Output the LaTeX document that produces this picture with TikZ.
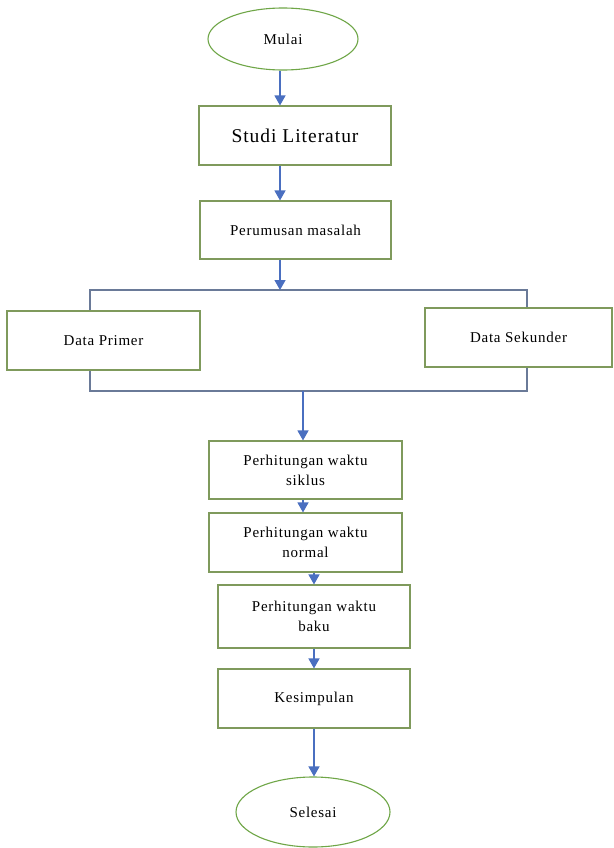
\documentclass[tikz,border=0pt]{standalone}
\usepackage{fontspec}
\setmainfont{Liberation Serif}[LetterSpace=5]
\usetikzlibrary{shapes.geometric,arrows.meta}
\definecolor{boxgreen}{HTML}{7F9A5C}
\definecolor{ellgreen}{HTML}{6FA647}
\definecolor{arrblue}{HTML}{4A6FC0}
\definecolor{lineblue}{HTML}{6A7A98}
\begin{document}
\begin{tikzpicture}[x=1pt,y=-1pt,
  proc/.style={draw=boxgreen, line width=1.1pt, fill=white, rectangle, inner sep=2pt,
    align=center, font=\fontsize{15}{20}\selectfont},
  term/.style={draw=ellgreen, line width=1.1pt, fill=white, ellipse, inner sep=0pt,
    font=\fontsize{15}{19}\selectfont},
  arr/.style={draw=arrblue, line width=1.3pt, -{Triangle[width=11pt,length=10pt]}},
  conn/.style={draw=lineblue, line width=1.3pt}]
\useasboundingbox (0,0) rectangle (613,848);
\fill[white] (0,0) rectangle (613,848);

\node[term, minimum width=150pt, minimum height=62pt] (mulai) at (283,39) {Mulai};
\node[proc, minimum width=192pt, minimum height=59pt, font=\fontsize{19.5}{22}\selectfont] (studi) at (295,135.5) {Studi Literatur};
\node[proc, minimum width=191pt, minimum height=58pt] (perumusan) at (295.5,230) {Perumusan masalah};
\node[proc, minimum width=193pt, minimum height=59pt] (primer) at (103.5,340.5) {Data Primer};
\node[proc, minimum width=187pt, minimum height=59pt] (sekunder) at (518.5,337.5) {Data Sekunder};
\node[proc, minimum width=193pt, minimum height=58pt] (siklus) at (305.5,470) {Perhitungan waktu\\siklus};
\node[proc, minimum width=193pt, minimum height=59pt] (normal) at (305.5,542.5) {Perhitungan waktu\\normal};
\node[proc, minimum width=192pt, minimum height=63pt] (baku) at (314,616.5) {Perhitungan waktu\\baku};
\node[proc, minimum width=192pt, minimum height=59pt] (kesimpulan) at (314,698.5) {Kesimpulan};
\node[term, minimum width=154pt, minimum height=70pt] (selesai) at (313,812) {Selesai};

\coordinate (tl) at (90,290);
\coordinate (tr) at (527,290);
\coordinate (bl) at (90,391);
\coordinate (br) at (527,391);
\coordinate (bm) at (303,391);

\draw[arr] ([xshift=-3pt]mulai.south) -- ([xshift=-3pt]mulai.south |- studi.north);
\draw[arr] ([xshift=-3pt]mulai.south |- studi.south) -- ([xshift=-3pt]mulai.south |- perumusan.north);
\draw[conn] (primer.north -| tl) -- (tl) -- (tr) -- (sekunder.north -| tr);
\draw[arr] ([xshift=-3pt]mulai.south |- perumusan.south) -- ([xshift=-3pt]mulai.south |- tl);
\draw[conn] (primer.south -| bl) -- (bl) -- (br) -- (sekunder.south -| br);
\draw[arr] (bm) -- (bm |- siklus.north);
\draw[arr] (siklus.south -| bm) -- (normal.north -| bm);
\draw[arr] (normal.south -| baku.north) -- (baku.north);
\draw[arr] (baku.south) -- (kesimpulan.north);
\draw[arr] (kesimpulan.south) -- (kesimpulan.south |- selesai.north);
\end{tikzpicture}
\end{document}
